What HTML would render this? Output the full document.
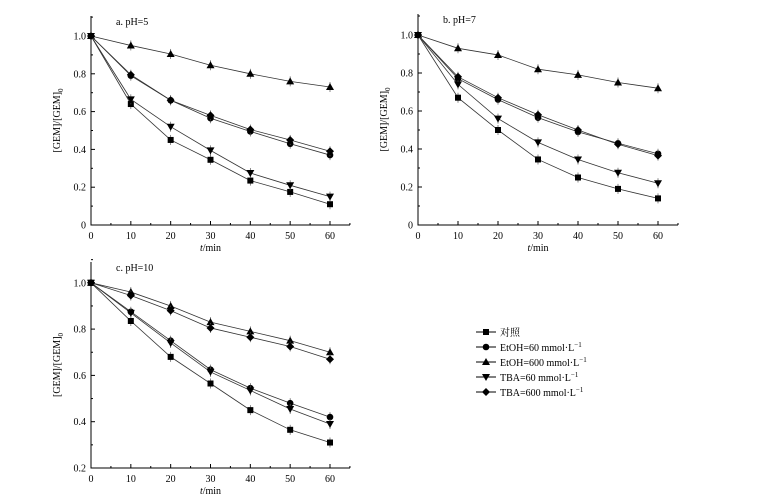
<!DOCTYPE html><html><head><style>body{margin:0;background:#fff}svg{display:block}text{font-family:"Liberation Serif","Noto Serif CJK SC",serif;fill:#000}</style></head><body>
<svg id="s" width="777" height="503" xmlns="http://www.w3.org/2000/svg"></svg>
<script>
const s=document.getElementById('s');let h='';
function mk(t,x,y,sz){
 if(t==0)return `<rect x="${x-3}" y="${y-3}" width="6" height="6"/>`;
 if(t==1)return `<circle cx="${x}" cy="${y}" r="3.3"/>`;
 if(t==2)return `<path d="M${x} ${y-4}L${x+4} ${y+3}L${x-4} ${y+3}Z"/>`;
 if(t==3)return `<path d="M${x} ${y+4}L${x+4} ${y-3}L${x-4} ${y-3}Z"/>`;
 return `<path d="M${x} ${y-4}L${x+4} ${y}L${x} ${y+4}L${x-4} ${y}Z"/>`;
}
function panel(p){
 const X=v=>p.x0+v*(p.x60-p.x0)/60, Y=v=>p.yb-(v-p.ymin)*p.k;
 h+=`<path d="M${p.x0} ${p.top}V${p.yb}H${p.xr}" stroke="#000" fill="none" stroke-width="1"/>`;
 for(let v=0;v<=65;v+=5){const x=X(v);h+=`<line x1="${x}" y1="${p.yb}" x2="${x}" y2="${p.yb-(v%10?2:4)}" stroke="#000"/>`;
  if(v%10==0&&v<=60)h+=`<text x="${x}" y="${p.yb+14}" font-size="10" text-anchor="middle">${v}</text>`;}
 for(let v=p.ymin;v<=1.1001;v+=0.1){const y=Y(v);const maj=Math.round(v*10)%2==0;h+=`<line x1="${p.x0}" y1="${y}" x2="${p.x0+(maj?4:2)}" y2="${y}" stroke="#000"/>`;
  if(maj)h+=`<text x="${p.x0-5}" y="${y+3.5}" font-size="10" text-anchor="end">${Math.abs(v)<1e-6?'0':v.toFixed(1)}</text>`;}
 h+=`<text x="${(p.x0+p.x60)/2}" y="${p.yb+26}" font-size="10" text-anchor="middle"><tspan font-style="italic">t</tspan>/min</text>`;
 const cy=(p.top+p.yb)/2;
 h+=`<text transform="translate(${p.x0-31},${cy}) rotate(-90)" font-size="10" text-anchor="middle">[GEM]/[GEM]<tspan font-size="7" dy="3">0</tspan></text>`;
 h+=`<text x="${p.x0+25}" y="${p.top+9}" font-size="10">${p.t}</text>`;
 p.d.forEach((arr,t)=>{
  h+=`<polyline points="${arr.map((v,i)=>X(i*10)+','+Y(v)).join(' ')}" fill="none" stroke="#333" stroke-width="0.8"/>`;
  arr.forEach((v,i)=>{if(i){h+=`<line x1="${X(i*10)}" y1="${Y(v)-5}" x2="${X(i*10)}" y2="${Y(v)+5}" stroke="#555" stroke-width="0.7"/>`}h+=mk(t,X(i*10),Y(v))});
 });
}
panel({x0:91,x60:330,xr:350,yb:225,top:16,ymin:0,k:189,t:'a. pH=5',d:[
[1,.64,.45,.345,.235,.175,.11],[1,.79,.66,.565,.495,.43,.37],[1,.95,.905,.845,.8,.76,.73],[1,.665,.52,.395,.275,.21,.15],[1,.795,.66,.58,.505,.45,.39]]});
panel({x0:418,x60:658,xr:678,yb:225,top:14,ymin:0,k:190,t:'b. pH=7',d:[
[1,.67,.5,.345,.25,.19,.14],[1,.77,.66,.565,.49,.43,.375],[1,.93,.895,.82,.79,.75,.72],[1,.74,.56,.435,.345,.275,.22],[1,.78,.67,.58,.5,.425,.365]]});
panel({x0:91,x60:330,xr:350,yb:468,top:262,ymin:0.2,k:231.5,t:'c. pH=10',d:[
[1,.835,.68,.565,.45,.365,.31],[1,.875,.75,.625,.545,.48,.42],[1,.96,.9,.83,.79,.75,.70],[1,.87,.74,.615,.535,.455,.39],[1,.945,.88,.805,.765,.725,.67]]});
const L=['对照','EtOH=60 mmol·L','EtOH=600 mmol·L','TBA=60 mmol·L','TBA=600 mmol·L'];
L.forEach((l,i)=>{const y=332+i*15;h+=`<line x1="476" y1="${y}" x2="496" y2="${y}" stroke="#000"/>`+mk(i,486,y);
 h+=`<text x="500" y="${y+4}" font-size="10">${l}${i?'<tspan font-size="7" dy="-4">−1</tspan>':''}</text>`;});
s.innerHTML=h;
</script></body></html>
